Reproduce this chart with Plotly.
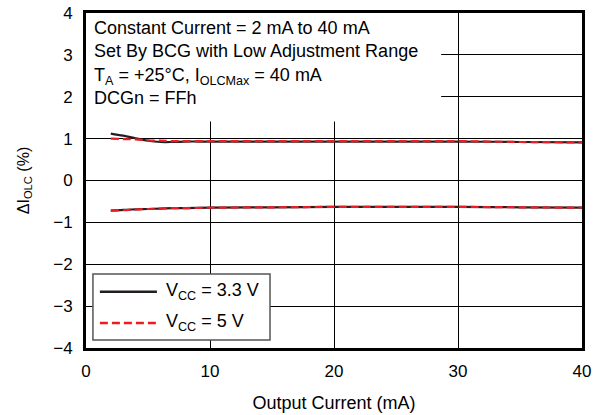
import plotly.graph_objects as go

current_ma = [2, 3, 4, 5, 6, 7, 8, 10, 15, 20, 25, 30, 35, 40]
v33_upper = [1.12, 1.07, 1.01, 0.95, 0.92, 0.92, 0.93, 0.93, 0.93, 0.93, 0.93, 0.93, 0.92, 0.91]
v5_upper = [1.00, 0.99, 0.98, 0.96, 0.95, 0.94, 0.94, 0.94, 0.94, 0.94, 0.94, 0.94, 0.92, 0.91]
v33_lower = [-0.72, -0.70, -0.69, -0.68, -0.67, -0.66, -0.66, -0.65, -0.64, -0.63, -0.63, -0.63, -0.64, -0.65]
v5_lower = [-0.72, -0.71, -0.69, -0.68, -0.67, -0.66, -0.66, -0.65, -0.64, -0.63, -0.63, -0.63, -0.64, -0.65]

x_ticks = [0, 10, 20, 30, 40]
y_ticks = [-4, -3, -2, -1, 0, 1, 2, 3, 4]
series_names = ["V<sub>CC</sub> = 3.3 V", "V<sub>CC</sub> = 5 V"]

FONT = "Liberation Sans, Arial, sans-serif"
BLACK = "#231f20"
RED = "#ed1c24"
DASH = "8px,4px"

fig = go.Figure()
fig.add_trace(go.Scatter(x=current_ma, y=v33_upper, mode="lines", name=series_names[0],
                         line=dict(color=BLACK, width=2.2, shape="spline")))
fig.add_trace(go.Scatter(x=current_ma, y=v33_lower, mode="lines", name=series_names[0],
                         line=dict(color=BLACK, width=2.2, shape="spline")))
fig.add_trace(go.Scatter(x=current_ma, y=v5_upper, mode="lines", name=series_names[1],
                         line=dict(color=RED, width=2.2, dash=DASH, shape="spline")))
fig.add_trace(go.Scatter(x=current_ma, y=v5_lower, mode="lines", name=series_names[1],
                         line=dict(color=RED, width=2.2, dash=DASH, shape="spline")))

# white box behind the condition text
fig.add_shape(type="rect", xref="paper", yref="paper", x0=0, x1=0.716, y0=0.676, y1=1,
              fillcolor="white", line=dict(width=0), layer="above")

fig.add_annotation(xref="paper", yref="paper", x=0.012, y=0.99, xanchor="left", yanchor="top",
                   align="left", showarrow=False,
                   text=("Constant Current = 2 mA to 40 mA<br>"
                         "Set By BCG with Low Adjustment Range<br>"
                         "T<sub>A</sub> = +25°C, I<sub>OLCMax</sub> = 40 mA<br>"
                         "DCGn = FFh"),
                   font=dict(family=FONT, size=18, color="black"))

# custom legend box
fig.add_shape(type="rect", xref="paper", yref="paper", x0=0.014, x1=0.371, y0=0.024, y1=0.221,
              fillcolor="white", line=dict(color="#555", width=1.5), layer="above")
legend_rows = [(0.168, BLACK, "solid"), (0.075, RED, DASH)]
for (yy, col, dash), name in zip(legend_rows, series_names):
    fig.add_shape(type="line", xref="paper", yref="paper", x0=0.028, x1=0.143, y0=yy, y1=yy,
                  line=dict(color=col, width=2.5, dash=dash), layer="above")
    fig.add_annotation(xref="paper", yref="paper", x=0.158, y=yy, xanchor="left", yanchor="middle",
                       showarrow=False, text=name, font=dict(family=FONT, size=18, color="black"))

fig.update_layout(
    width=601, height=415,
    margin=dict(l=86, r=19, t=13, b=67, autoexpand=False),
    paper_bgcolor="white", plot_bgcolor="white",
    font=dict(family=FONT, size=17, color="black"),
    showlegend=False,
    xaxis=dict(range=[0, 40], tickvals=x_ticks, showgrid=True, gridcolor="black", gridwidth=1,
               showline=True, linecolor="black", linewidth=3, mirror=True, zeroline=False,
               ticks="", tickfont=dict(size=17), automargin=False, ticklabelstandoff=6,
               title=dict(text="Output Current (mA)", font=dict(size=18), standoff=16)),
    yaxis=dict(range=[-4, 4], tickvals=y_ticks, showgrid=True, gridcolor="black", gridwidth=1,
               showline=True, linecolor="black", linewidth=3, mirror=True, zeroline=False,
               ticks="", tickfont=dict(size=17), automargin=False, ticklabelstandoff=7,
               title=dict(text="ΔI<sub>OLC</sub> (%)", font=dict(size=16), standoff=20)),
)

fig.write_html("out.html", config={"displayModeBar": False},
               post_script="document.body.style.margin='0';")
